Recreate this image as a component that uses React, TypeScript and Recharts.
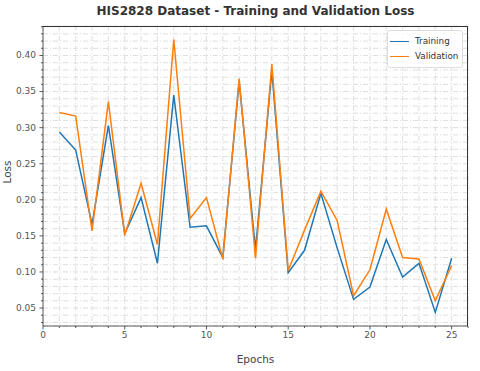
import React from 'react';
import { LineChart, Line, XAxis, YAxis, CartesianGrid } from 'recharts';

// values
const epochs = [1, 2, 3, 4, 5, 6, 7, 8, 9, 10, 11, 12, 13, 14, 15, 16, 17, 18, 19, 20, 21, 22, 23, 24, 25];
const trainingLoss = [
  0.294, 0.269, 0.166, 0.303, 0.153, 0.203, 0.112, 0.345, 0.162, 0.164, 0.12, 0.364, 0.131,
  0.379, 0.099, 0.13, 0.209, 0.133, 0.062, 0.079, 0.145, 0.093, 0.112, 0.044, 0.119,
];
const validationLoss = [
  0.321, 0.316, 0.157, 0.336, 0.151, 0.223, 0.138, 0.422, 0.174, 0.203, 0.118, 0.368, 0.119,
  0.388, 0.102, 0.158, 0.212, 0.171, 0.067, 0.103, 0.187, 0.12, 0.118, 0.06, 0.109,
];
const xTicks = Array.from({ length: 27 }, (_, i) => i);
const yTicks = Array.from({ length: 42 }, (_, i) => (i + 3) / 100);

const data = epochs.map((epoch, i) => ({
  epoch,
  training: trainingLoss[i],
  validation: validationLoss[i],
}));

const FONT = 'DejaVu Sans, sans-serif';
const AXIS = '#333';
const TEXT = '#555';

const XTick = (props: any) => {
  const { x, y, payload } = props;
  const v = payload.value;
  const major = v % 5 === 0;
  return (
    <g>
      <line x1={x} x2={x} y1={y} y2={y + (major ? 3.5 : 2)} stroke={AXIS} strokeWidth={0.8} />
      {major && (
        <text x={x} y={y + 6} dy="0.71em" textAnchor="middle" fontSize={9} fill={TEXT} fontFamily={FONT}>
          {v}
        </text>
      )}
    </g>
  );
};

const YTick = (props: any) => {
  const { x, y, payload } = props;
  const v = payload.value;
  const major = Math.round(v * 100) % 5 === 0;
  return (
    <g>
      <line x1={x - (major ? 3.5 : 2)} x2={x} y1={y} y2={y} stroke={AXIS} strokeWidth={0.8} />
      {major && (
        <text x={x - 7} y={y} dy="0.32em" textAnchor="end" fontSize={9} fill={TEXT} fontFamily={FONT}>
          {v.toFixed(2)}
        </text>
      )}
    </g>
  );
};

const legendItems = [
  ['Training', '#1f77b4'],
  ['Validation', '#ff7f0e'],
];

export default function App() {
  return (
    <div style={{ position: 'absolute', left: 0, top: 0, width: 480, height: 371, background: '#fff' }}>
      <div
        style={{
          position: 'absolute',
          left: 43,
          width: 425,
          top: 4,
          textAlign: 'center',
          fontFamily: FONT,
          fontWeight: 'bold',
          fontSize: 12,
          color: '#333',
        }}
      >
        HIS2828 Dataset - Training and Validation Loss
      </div>
      <div
        style={{
          position: 'absolute',
          left: 43,
          width: 425,
          top: 353,
          textAlign: 'center',
          fontFamily: FONT,
          fontSize: 10.5,
          color: '#444',
        }}
      >
        Epochs
      </div>
      <div
        style={{
          position: 'absolute',
          left: -13,
          top: 166,
          width: 40,
          textAlign: 'center',
          transform: 'rotate(-90deg)',
          fontFamily: FONT,
          fontSize: 10.5,
          color: '#444',
        }}
      >
        Loss
      </div>
      <LineChart width={480} height={371} data={data} margin={{ top: 26, right: 12, left: 0, bottom: 0 }}>
        <CartesianGrid stroke="#d6d6d6" strokeDasharray="5 2 1 2" strokeWidth={0.8} />
        <XAxis
          dataKey="epoch"
          type="number"
          domain={[0, 26]}
          ticks={xTicks}
          interval={0}
          height={45}
          tickSize={0}
          tickMargin={0}
          tick={<XTick />}
          axisLine={{ stroke: AXIS, strokeWidth: 0.8 }}
        />
        <YAxis
          type="number"
          domain={[0.0251, 0.4409]}
          ticks={yTicks}
          interval={0}
          width={43}
          tickSize={0}
          tickMargin={0}
          tick={<YTick />}
          axisLine={{ stroke: AXIS, strokeWidth: 0.8 }}
        />
        <Line type="linear" dataKey="training" name="Training" stroke="#1f77b4" strokeWidth={1.5} dot={false} isAnimationActive={false} />
        <Line type="linear" dataKey="validation" name="Validation" stroke="#ff7f0e" strokeWidth={1.5} dot={false} isAnimationActive={false} />
      </LineChart>
      {/* top and right spines */}
      <div
        style={{
          position: 'absolute',
          left: 43,
          top: 26,
          width: 425,
          height: 300,
          boxSizing: 'border-box',
          borderTop: '0.8px solid #333',
          borderRight: '0.8px solid #333',
          pointerEvents: 'none',
        }}
      />
      <div
        style={{
          position: 'absolute',
          left: 387,
          top: 30,
          width: 76,
          boxSizing: 'border-box',
          border: '1px solid #ddd',
          borderRadius: 3,
          background: 'rgba(255,255,255,0.8)',
          padding: '3px 0 3px 2px',
          fontFamily: FONT,
          fontSize: 8.8,
          color: '#333',
          lineHeight: '15px',
        }}
      >
        {legendItems.map(([name, color]) => (
          <div key={name} style={{ display: 'flex', alignItems: 'center' }}>
            <span style={{ display: 'inline-block', width: 19, height: 1.5, background: color, marginRight: 6 }} />
            {name}
          </div>
        ))}
      </div>
    </div>
  );
}
